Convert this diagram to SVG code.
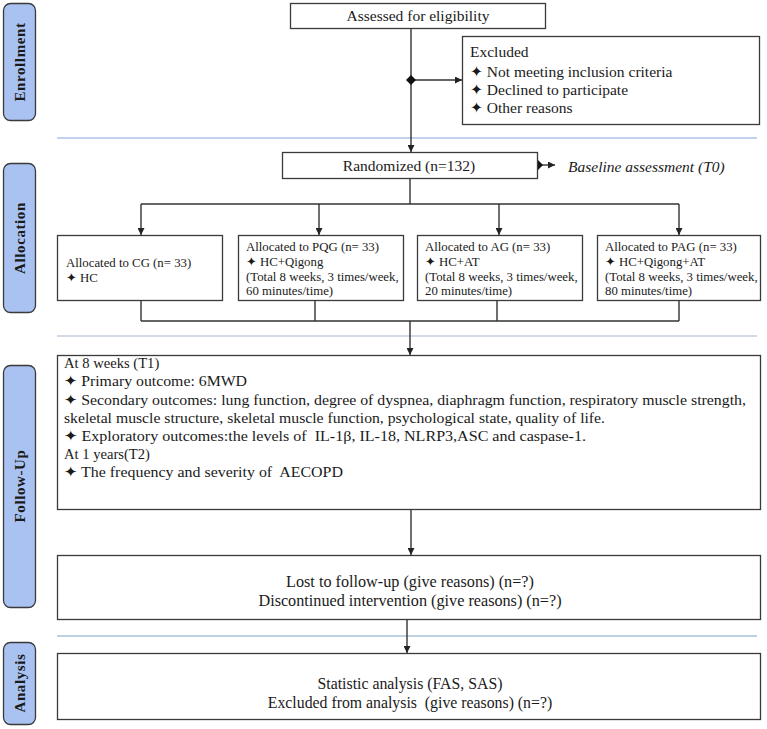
<svg xmlns="http://www.w3.org/2000/svg" width="767" height="729" viewBox="0 0 767 729">
<style>
  text { font-family: "Liberation Serif", "DejaVu Serif", "DejaVu Sans", serif; fill: #1a1a1a; white-space: pre; }
  .box { fill: #ffffff; stroke: #3a3a3a; stroke-width: 1.3; }
  .tab { fill: #a9c2f2; stroke: #3a3a3a; stroke-width: 1.3; }
  .tabt { font-weight: bold; font-size: 15px; letter-spacing: 0.6px; text-anchor: middle; }
  .sep { stroke-width: 2; fill: none; }
  .ln { stroke: #333333; stroke-width: 1.4; fill: none; }
  .t15 { font-size: 15.5px; }
  .t13 { font-size: 12.8px; }
  .tf { font-size: 15.2px; }
  .ta { font-size: 14.6px; }
  .t16 { font-size: 16.2px; text-anchor: middle; }
  .t16b { font-size: 15.8px; text-anchor: middle; }
  .mid { text-anchor: middle; }
</style>
<defs>
  <marker id="arr" viewBox="0 0 10 10" refX="10" refY="5" markerWidth="7" markerHeight="7" markerUnits="userSpaceOnUse" orient="auto">
    <path d="M0,0 L10,5 L0,10 z" fill="#222"/>
  </marker>
  <marker id="dia" viewBox="0 0 10 10" refX="5" refY="5" markerWidth="10" markerHeight="10" markerUnits="userSpaceOnUse" orient="auto">
    <path d="M5,0 L10,5 L5,10 L0,5 z" fill="#111"/>
  </marker>
</defs>

<rect width="767" height="729" fill="#ffffff"/>

<g id="phase-tabs">
  <g id="tab-enrollment">
    <rect class="tab" x="3.5" y="3.5" width="32" height="117" rx="7"/>
    <text class="tabt" transform="translate(25,62) rotate(-90)">Enrollment</text>
  </g>
  <g id="tab-allocation">
    <rect class="tab" x="3.5" y="163.5" width="32" height="149" rx="7"/>
    <text class="tabt" transform="translate(25,238) rotate(-90)">Allocation</text>
  </g>
  <g id="tab-followup">
    <rect class="tab" x="3.5" y="365.5" width="32" height="242" rx="7"/>
    <text class="tabt" transform="translate(25,486) rotate(-90)">Follow-Up</text>
  </g>
  <g id="tab-analysis">
    <rect class="tab" x="3.5" y="642.5" width="32" height="82" rx="7"/>
    <text class="tabt" transform="translate(25,683) rotate(-90)">Analysis</text>
  </g>
</g>

<g id="separators">
  <line class="sep" x1="57" y1="138" x2="757" y2="138" stroke="#c4d0ee"/>
  <line class="sep" x1="57" y1="336" x2="757" y2="336" stroke="#d3d9e8"/>
  <line class="sep" x1="57" y1="636" x2="757" y2="636" stroke="#bcd2e2"/>
</g>

<g id="connectors">
  <line class="ln" x1="411" y1="29" x2="411" y2="152" marker-end="url(#arr)"/>
  <line class="ln" x1="411" y1="80" x2="462" y2="80" marker-start="url(#dia)" marker-end="url(#arr)"/>
  <line class="ln" x1="538" y1="165" x2="555" y2="165" marker-start="url(#dia)" marker-end="url(#arr)"/>
  <path class="ln" d="M410,179 V204 M141,204 H679"/>
  <line class="ln" x1="141" y1="204" x2="141" y2="235" marker-end="url(#arr)"/>
  <line class="ln" x1="319" y1="204" x2="319" y2="235" marker-end="url(#arr)"/>
  <line class="ln" x1="499" y1="204" x2="499" y2="235" marker-end="url(#arr)"/>
  <line class="ln" x1="679" y1="204" x2="679" y2="235" marker-end="url(#arr)"/>
  <path class="ln" d="M141,301 V321 M315,301 V321 M497,301 V321 M679,301 V321 M141,321 H679"/>
  <line class="ln" x1="410" y1="321" x2="410" y2="355" marker-end="url(#arr)"/>
  <line class="ln" x1="411" y1="510" x2="411" y2="555" marker-end="url(#arr)"/>
  <line class="ln" x1="407" y1="620" x2="407" y2="653" marker-end="url(#arr)"/>
</g>

<g id="node-assessed">
  <rect class="box" x="290.5" y="3.5" width="255" height="25"/>
  <text class="t15 mid" x="418" y="21">Assessed for eligibility</text>
</g>

<g id="node-excluded">
  <rect class="box" x="462.5" y="36.5" width="297" height="88"/>
  <text class="t15" x="470" y="57">Excluded</text>
  <text class="t15" x="470" y="77">✦ Not meeting inclusion criteria</text>
  <text class="t15" x="470" y="95">✦ Declined to participate</text>
  <text class="t15" x="470" y="113">✦ Other reasons</text>
</g>

<g id="node-randomized">
  <rect class="box" x="282.5" y="152.5" width="255" height="26"/>
  <text class="t15 mid" x="409" y="171">Randomized (n=132)</text>
</g>

<g id="node-baseline">
  <text class="t15" x="568" y="172" font-style="italic">Baseline assessment (T0)</text>
</g>

<g id="node-cg">
  <rect class="box" x="57.5" y="235.5" width="165" height="65"/>
  <text class="t13" x="66" y="267">Allocated to CG (n= 33)</text>
  <text class="t13" x="66" y="282">✦ HC</text>
</g>

<g id="node-pqg">
  <rect class="box" x="238.5" y="235.5" width="165" height="65"/>
  <text class="t13" x="246" y="251">Allocated to PQG (n= 33)</text>
  <text class="t13" x="246" y="266">✦ HC+Qigong</text>
  <text class="t13" x="246" y="281">(Total 8 weeks, 3 times/week,</text>
  <text class="t13" x="246" y="295">60 minutes/time)</text>
</g>

<g id="node-ag">
  <rect class="box" x="417.5" y="235.5" width="165" height="65"/>
  <text class="t13" x="425" y="251">Allocated to AG (n= 33)</text>
  <text class="t13" x="425" y="266">✦ HC+AT</text>
  <text class="t13" x="425" y="281">(Total 8 weeks, 3 times/week,</text>
  <text class="t13" x="425" y="295">20 minutes/time)</text>
</g>

<g id="node-pag">
  <rect class="box" x="597.5" y="235.5" width="163" height="65"/>
  <text class="t13" x="605" y="251">Allocated to PAG (n= 33)</text>
  <text class="t13" x="605" y="266">✦ HC+Qigong+AT</text>
  <text class="t13" x="605" y="281">(Total 8 weeks, 3 times/week,</text>
  <text class="t13" x="605" y="295">80 minutes/time)</text>
</g>

<g id="node-followup">
  <rect class="box" x="57.5" y="355.5" width="703" height="154"/>
  <text class="ta" x="64" y="368">At 8 weeks (T1)</text>
  <text class="tf" x="64" y="386" textLength="183" lengthAdjust="spacingAndGlyphs">✦ Primary outcome: 6MWD</text>
  <text class="tf" x="64" y="405" textLength="682" lengthAdjust="spacingAndGlyphs">✦ Secondary outcomes: lung function, degree of dyspnea, diaphragm function, respiratory muscle strength,</text>
  <text class="tf" x="64" y="423" textLength="541" lengthAdjust="spacingAndGlyphs">skeletal muscle structure, skeletal muscle function, psychological state, quality of life.</text>
  <text class="tf" x="64" y="441" textLength="522" lengthAdjust="spacingAndGlyphs">✦ Exploratory outcomes:the levels of  IL-1β, IL-18, NLRP3,ASC and caspase-1.</text>
  <text class="ta" x="64" y="459">At 1 years(T2)</text>
  <text class="tf" x="64" y="477" textLength="279" lengthAdjust="spacingAndGlyphs">✦ The frequency and severity of  AECOPD</text>
</g>

<g id="node-lost">
  <rect class="box" x="57.5" y="555.5" width="703" height="64"/>
  <text class="t16" x="410" y="587">Lost to follow-up (give reasons) (n=?)</text>
  <text class="t16" x="410" y="606">Discontinued intervention (give reasons) (n=?)</text>
</g>

<g id="node-analysis">
  <rect class="box" x="57.5" y="653.5" width="703" height="66"/>
  <text class="t16b" x="410" y="689">Statistic analysis (FAS, SAS)</text>
  <text class="t16b" x="410" y="708">Excluded from analysis  (give reasons) (n=?)</text>
</g>
</svg>
